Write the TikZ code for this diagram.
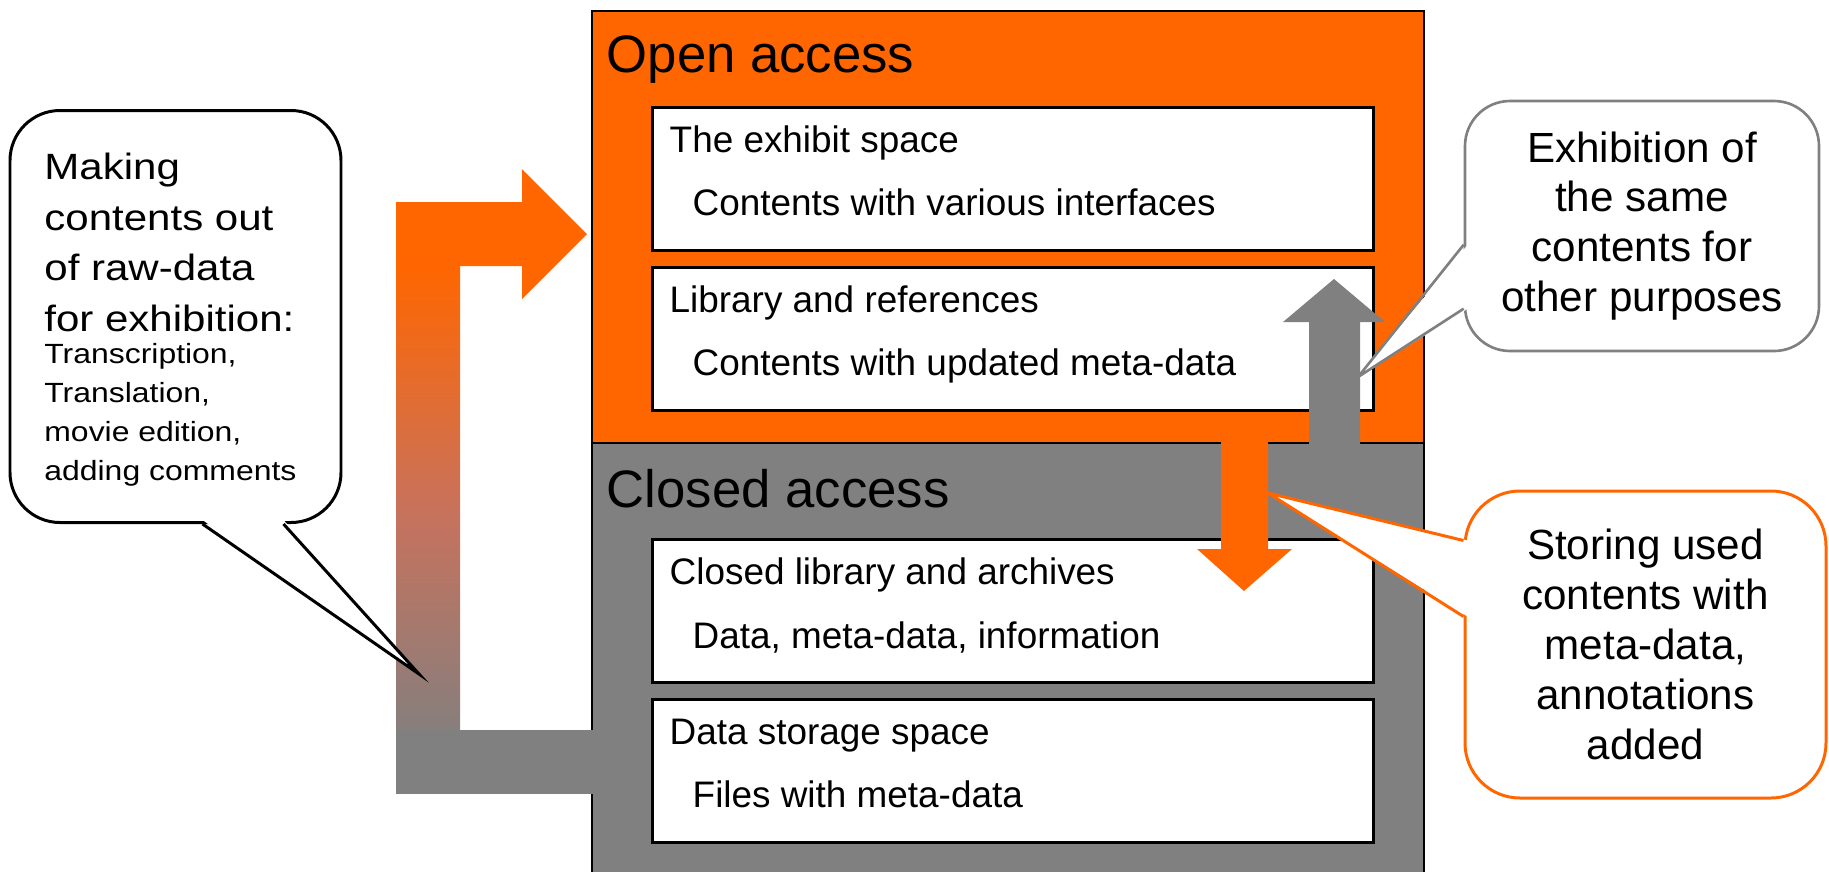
\documentclass[tikz,border=0pt]{standalone}
\usepackage{fontspec}
\usepackage{graphicx}
\setmainfont{Liberation Sans}
\usetikzlibrary{calc}
\setlength{\parindent}{0pt}

\definecolor{accorange}{HTML}{FF6600}
\definecolor{accgray}{HTML}{808080}
\definecolor{fadegray}{RGB}{200,114,92}

\begin{document}
\begin{tikzpicture}
		% Node styles
		\tikzset{zone/.style={draw=black, line width=0.6pt, anchor=north west,
								inner sep=0pt, minimum width=8.32cm},
				zone title/.style={anchor=base west, inner sep=0pt,
								font=\fontsize{15}{18}\selectfont},
				space box/.style={draw=black, fill=white, line width=0.75pt,
								anchor=north west, inner sep=0pt,
								minimum width=7.21cm, minimum height=1.43cm},
				box head/.style={anchor=base west, inner sep=0pt,
								font=\fontsize{10.5}{12.6}\selectfont},
				box sub/.style={box head},
				balloon/.style={draw, fill=white, line width=0.85pt,
								inner sep=0pt, align=center,
								font=\fontsize{12}{14.2}\selectfont}}

		\useasboundingbox (0,0) rectangle (18.29,-8.71);

		% Draw access zones
		\node[zone, fill=accorange, minimum height=4.32cm] at (5.91,-0.10) (open) {};
		\node[zone, fill=accgray, minimum height=4.60cm] at (5.91,-4.42) (closed) {};
		\node[zone title] at (6.06,-0.72) (open title) {Open access};
		\node[zone title] at (6.06,-5.07) (closed title) {Closed access};

		% Draw feedback arrow
		\shade[top color=accorange, bottom color=accgray, middle color=fadegray]
			(3.96,-2.66) rectangle (4.60,-7.53);
		\fill[accorange] (3.96,-2.02) -- (5.22,-2.02) -- (5.22,-1.69) -- (5.87,-2.34)
			-- (5.22,-2.99) -- (5.22,-2.66) -- (3.96,-2.66) -- cycle;
		\fill[accgray] (3.96,-7.30) rectangle (6.55,-7.94);

		% Draw spaces
		\node[space box] at (6.51,-1.06) (exhibit) {};
		\node[space box] at (6.51,-2.66) (library) {};
		\node[space box] at (6.51,-5.38) (archive) {};
		\node[space box] at (6.51,-6.98) (storage) {};

		\node[box head] at (6.69,-1.52) (exhibit head) {The exhibit space};
		\node[box sub] at (6.92,-2.15) (exhibit sub) {Contents with various interfaces};
		\node[box head] at (6.69,-3.12) (library head) {Library and references};
		\node[box sub] at (6.92,-3.75) (library sub) {Contents with updated meta-data};
		\node[box head] at (6.69,-5.84) (archive head) {Closed library and archives};
		\node[box sub] at (6.92,-6.48) (archive sub) {Data, meta-data, information};
		\node[box head] at (6.69,-7.44) (storage head) {Data storage space};
		\node[box sub] at (6.92,-8.07) (storage sub) {Files with meta-data};

		% Draw up and down arrows
		\fill[accgray] (13.09,-4.50) -- (13.09,-3.22) -- (12.83,-3.22) -- (13.34,-2.79)
			-- (13.85,-3.22) -- (13.60,-3.22) -- (13.60,-4.50) -- cycle;
		\fill[accorange] (12.21,-4.30) -- (12.21,-5.49) -- (11.97,-5.49) -- (12.44,-5.91)
			-- (12.92,-5.49) -- (12.68,-5.49) -- (12.68,-4.30) -- cycle;

		% Draw callouts
		\node[balloon, rounded corners=0.5cm, minimum width=3.31cm, minimum height=4.12cm]
			at (1.755,-3.165) (making)
			{\scalebox{1.15}[1]{\parbox{2.28cm}{\raggedright\vspace{1.7pt}
			{\fontsize{10.4}{14.4}\selectfont Making\\contents out\\of raw-data\\for exhibition:\par}
			\vspace{-2.1pt}
			{\fontsize{7.9}{11.1}\selectfont Transcription,\\Translation,\\movie edition,\\adding comments\par}}}};
		\node[balloon, draw=accgray, line width=0.75pt, rounded corners=0.45cm,
			minimum width=3.54cm, minimum height=2.50cm] at (16.42,-2.26) (exhibition)
			{Exhibition of\\the same\\contents for\\other purposes};
		\node[balloon, draw=accorange, rounded corners=0.55cm,
			minimum width=3.61cm, minimum height=3.07cm] at (16.455,-6.445) (storing)
			{Storing used\\contents with\\meta-data,\\annotations\\added};

		% Draw callout pointers
		\coordinate (making tip) at (4.19,-6.74);
		\coordinate (exhibition tip) at (13.58,-3.77);
		\coordinate (storing tip) at (12.68,-4.93);

		\fill[white] ($(making.south west)+(1.94,0.04)$) -- (making tip)
			-- ($(making.south west)+(2.75,0.04)$) -- cycle;
		\draw[line width=0.85pt] ($(making.south west)+(1.94,0)$) -- (making tip)
			-- ($(making.south west)+(2.75,0)$);

		\fill[white] ($(exhibition.north west)+(0.04,-1.45)$) -- (exhibition tip)
			-- ($(exhibition.north west)+(0.04,-2.09)$) -- cycle;
		\draw[accgray, line width=0.75pt] ($(exhibition.north west)+(0,-1.45)$)
			-- (exhibition tip) -- ($(exhibition.north west)+(0,-2.09)$);

		\fill[white] ($(storing.north west)+(0.04,-0.51)$) -- (storing tip)
			-- ($(storing.north west)+(0.04,-1.27)$) -- cycle;
		\draw[accorange, line width=0.85pt] ($(storing.north west)+(0,-0.51)$)
			-- (storing tip) -- ($(storing.north west)+(0,-1.27)$);

	\end{tikzpicture}
\end{document}
